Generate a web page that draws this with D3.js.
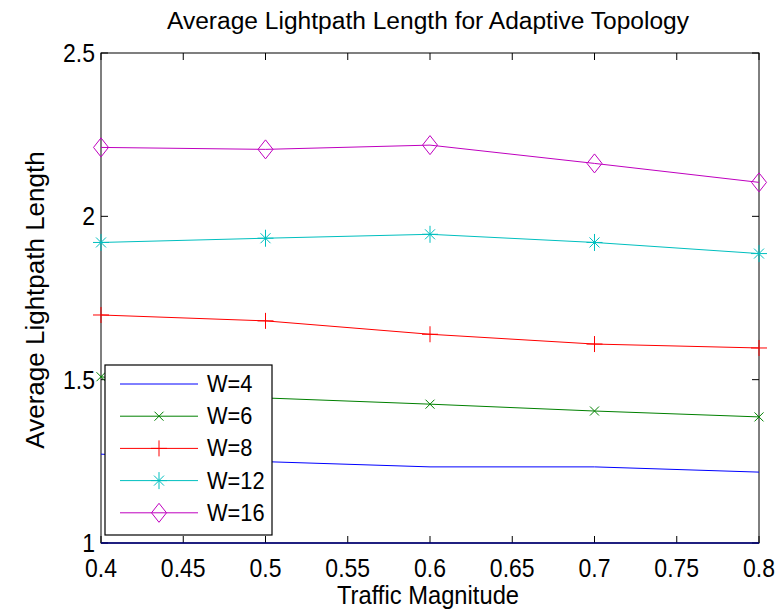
<!DOCTYPE html>
<html>
<head>
<meta charset="utf-8">
<script src="https://cdn.jsdelivr.net/npm/d3@7"></script>
<style>
body { margin: 0; background: #fff; }
svg text { font-family: "Liberation Sans", Arial, sans-serif; fill: #000; }
</style>
</head>
<body>
<svg id="chart" width="784" height="612"></svg>
<script>
// traffic magnitudes on the x axis
var traffic = [0.4, 0.5, 0.6, 0.7, 0.8];

// average lightpath length per wavelength count
var w4  = [1.272, 1.249, 1.233, 1.233, 1.217];
var w6  = [1.509, 1.444, 1.425, 1.404, 1.386];
var w8  = [1.698, 1.680, 1.639, 1.609, 1.597];
var w12 = [1.920, 1.933, 1.945, 1.920, 1.886];
var w16 = [2.211, 2.205, 2.218, 2.162, 2.104];

var seriesNames = ["W=4", "W=6", "W=8", "W=12", "W=16"];
var xTicks = [0.4, 0.45, 0.5, 0.55, 0.6, 0.65, 0.7, 0.75, 0.8];
var yTicks = [1, 1.5, 2, 2.5];

var series = [
	{name: seriesNames[0], values: w4,  color: "#0000ff", marker: "none"},
	{name: seriesNames[1], values: w6,  color: "#008000", marker: "x"},
	{name: seriesNames[2], values: w8,  color: "#ff0000", marker: "plus"},
	{name: seriesNames[3], values: w12, color: "#00bfbf", marker: "star"},
	{name: seriesNames[4], values: w16, color: "#bf00bf", marker: "diamond"}
];

var pLeft = 101, pRight = 759, pTop = 53, pBottom = 543;

var x = d3.scaleLinear().domain([0.4, 0.8]).range([pLeft, pRight]);
var y = d3.scaleLinear().domain([1, 2.5]).range([pBottom, pTop]);

var svg = d3.select("#chart");

function markerPath(type) {
	switch (type) {
		case "x": return "M-4.5,-4.5L4.5,4.5M-4.5,4.5L4.5,-4.5";
		case "plus": return "M-8,0L8,0M0,-8L0,8";
		case "star": return "M-8,0L8,0M0,-8.5L0,8.5M-5,-5L5,5M-5,5L5,-5";
		case "diamond": return "M0,-9.5L7.5,0L0,9.5L-7.5,0Z";
	}
	return "";
}

// slightly narrow text like the original export
function label(g, tx, ty, size, anchor, str, sx) {
	return g.append("text")
		.attr("transform", "translate(" + tx + "," + ty + ") scale(" + (sx || 1) + ",1)")
		.attr("text-anchor", anchor)
		.attr("font-size", size)
		.text(str);
}

// axes box with inward ticks on all sides
var axisG = svg.append("g");
axisG.append("rect")
	.attr("x", pLeft).attr("y", pTop)
	.attr("width", pRight - pLeft).attr("height", pBottom - pTop)
	.attr("fill", "none").attr("stroke", "#000").attr("stroke-width", 1);

xTicks.forEach(function(t) {
	axisG.append("line").attr("x1", x(t)).attr("x2", x(t))
		.attr("y1", pBottom).attr("y2", pBottom - 7).attr("stroke", "#000");
	axisG.append("line").attr("x1", x(t)).attr("x2", x(t))
		.attr("y1", pTop).attr("y2", pTop + 7).attr("stroke", "#000");
	label(axisG, x(t), 577, 25, "middle", d3.format("")(t), 0.92);
});

yTicks.forEach(function(t) {
	axisG.append("line").attr("x1", pLeft).attr("x2", pLeft + 7)
		.attr("y1", y(t)).attr("y2", y(t)).attr("stroke", "#000");
	axisG.append("line").attr("x1", pRight).attr("x2", pRight - 7)
		.attr("y1", y(t)).attr("y2", y(t)).attr("stroke", "#000");
	label(axisG, 95, y(t) + 9, 25, "end", d3.format("")(t), 0.92);
});

// bottom edge renders dark blue in the original
axisG.append("line")
	.attr("x1", pLeft).attr("x2", pRight)
	.attr("y1", pBottom).attr("y2", pBottom)
	.attr("stroke", "#000080").attr("stroke-width", 1.5);

// data lines
var line = d3.line()
	.x(function(d, i) { return x(traffic[i]); })
	.y(function(d) { return y(d); });

var plot = svg.append("g");
series.forEach(function(s) {
	plot.append("path")
		.attr("d", line(s.values))
		.attr("fill", "none")
		.attr("stroke", s.color)
		.attr("stroke-width", 1);

	if (s.marker != "none") {
		plot.selectAll(null)
			.data(s.values)
			.enter()
			.append("path")
			.attr("transform", function(d, i) { return "translate(" + x(traffic[i]) + "," + y(d) + ")"; })
			.attr("d", markerPath(s.marker))
			.attr("fill", "none")
			.attr("stroke", s.color)
			.attr("stroke-width", 1);
	}
});

// legend
var legend = svg.append("g");
legend.append("rect")
	.attr("x", 105).attr("y", 365)
	.attr("width", 167).attr("height", 170)
	.attr("fill", "#fff").attr("stroke", "#000").attr("stroke-width", 1.2);

series.forEach(function(s, i) {
	var ly = 384 + i * 32.2;
	legend.append("line")
		.attr("x1", 120).attr("x2", 198)
		.attr("y1", ly).attr("y2", ly)
		.attr("stroke", s.color);
	if (s.marker != "none") {
		legend.append("path")
			.attr("transform", "translate(159," + ly + ")")
			.attr("d", markerPath(s.marker))
			.attr("fill", "none")
			.attr("stroke", s.color);
	}
	label(legend, 207, ly + 8, 23, "start", s.name, 0.95);
});

// titles
svg.append("text")
	.attr("x", 428).attr("y", 29)
	.attr("text-anchor", "middle")
	.attr("font-size", 23)
	.attr("textLength", 522)
	.attr("lengthAdjust", "spacingAndGlyphs")
	.text("Average Lightpath Length for Adaptive Topology");

label(svg, 428, 604, 25, "middle", "Traffic Magnitude", 0.95);

svg.append("text")
	.attr("transform", "translate(44,300) rotate(-90)")
	.attr("text-anchor", "middle")
	.attr("font-size", 26)
	.text("Average Lightpath Length");
</script>
</body>
</html>
